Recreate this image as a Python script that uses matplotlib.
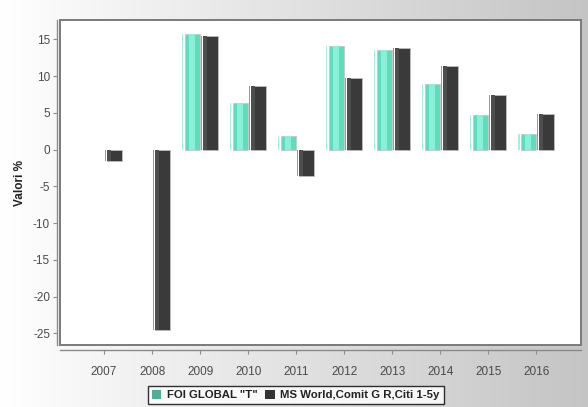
import numpy as np
import matplotlib.pyplot as plt
from matplotlib.patches import Rectangle

years = ['2007', '2008', '2009', '2010', '2011', '2012', '2013', '2014', '2015', '2016']
foi_global = [np.nan, np.nan, 15.7, 6.4, 1.9, 14.1, 13.6, 9.0, 4.7, 2.1]
ms_world = [-1.5, -24.6, 15.5, 8.6, -3.6, 9.7, 13.9, 11.4, 7.5, 4.9]
labels = ['FOI GLOBAL "T"', 'MS World,Comit G R,Citi 1-5y']

plt.rcParams['font.family'] = ['Liberation Sans', 'DejaVu Sans']
plt.rcParams['axes.unicode_minus'] = False

fig = plt.figure(figsize=(5.88, 4.07), dpi=100)

# sfondo sfumato
bg = fig.add_axes([0, 0, 1, 1], zorder=-10)
grad = np.linspace(1.0, 0.77, 256).reshape(1, -1)
bg.imshow(np.dstack([grad, grad, grad]), aspect='auto', extent=[0, 1, 0, 1])
bg.axis('off')

ax = fig.add_axes([60 / 588, 1 - 345 / 407, 521 / 588, 325 / 407])
ax.set_facecolor('white')

x = np.arange(len(years))
unit = 1 / 48.0
w = 15 * unit

green = '#5fdcbc'
green_hi = '#8aeed8'
dark = '#3a3a3a'
dark_hi = '#4e4e4e'

# barre principali
ax.bar(x - w, foi_global, w, align='edge', color=green, edgecolor='#c8c8c8', linewidth=0.6, zorder=3)
ax.bar(x - w + 4 * unit, foi_global, 6 * unit, align='edge', color=green_hi, linewidth=0, zorder=4)
ax.bar(x + 3 * unit, ms_world, w, align='edge', color=dark, edgecolor='#bdbdbd', linewidth=0.6, zorder=3)
ax.bar(x + 3 * unit, ms_world, 4 * unit, align='edge', color=dark_hi, linewidth=0, zorder=4)
# riflessi laterali (effetto 3D)
ax.bar(x - 18 * unit, foi_global, 1.2 * unit, align='edge', color='#a8eedc', linewidth=0, zorder=3)
ax.bar(x + 0.6 * unit, ms_world, 1.2 * unit, align='edge', color='#9a9a9a', linewidth=0, zorder=3)

ax.set_xlim(-0.917, 9.93)
ax.set_ylim(-26.6, 17.65)
ax.set_yticks(np.arange(-25, 16, 5))
ax.set_xticks(x)
ax.set_xticklabels(years)

for s in ['top', 'right']:
    ax.spines[s].set_visible(False)
ax.spines['left'].set_position(('outward', 2.2))
ax.spines['bottom'].set_position(('outward', 3.3))
ax.spines['left'].set_color('#8a8a8a')
ax.spines['bottom'].set_color('#8a8a8a')
ax.spines['left'].set_linewidth(1.0)
ax.spines['bottom'].set_linewidth(1.0)

# cornice area grafico
ax.add_patch(Rectangle((0, 0), 1, 1, transform=ax.transAxes, fill=False,
                       edgecolor='#7a7a7a', linewidth=1.4, zorder=5, clip_on=False))

ax.tick_params(axis='both', colors='#8a8a8a', labelcolor='#4a4a4a', labelsize=8.5,
               length=3, width=0.8)
ax.tick_params(axis='x', pad=9)
ax.tick_params(axis='y', pad=2)

ax.set_ylabel('Valori %', fontsize=8.5, fontweight='bold', color='#222222', labelpad=5)

handles = [Rectangle((0, 0), 1, 1, facecolor='#4fae94', edgecolor='none'),
           Rectangle((0, 0), 1, 1, facecolor='#333333', edgecolor='none')]
leg = fig.legend(handles, labels, loc='upper center', bbox_to_anchor=(0.503, 0.052),
                 ncol=2, fontsize=8.2, frameon=True, fancybox=False,
                 handlelength=0.8, handleheight=0.8, handletextpad=0.5,
                 columnspacing=0.7, borderpad=0.35, borderaxespad=0)
leg.get_frame().set_edgecolor('black')
leg.get_frame().set_linewidth(1.0)
for t in leg.get_texts():
    t.set_fontweight('bold')
    t.set_color('#222222')

fig.savefig('out.png', dpi=100)
